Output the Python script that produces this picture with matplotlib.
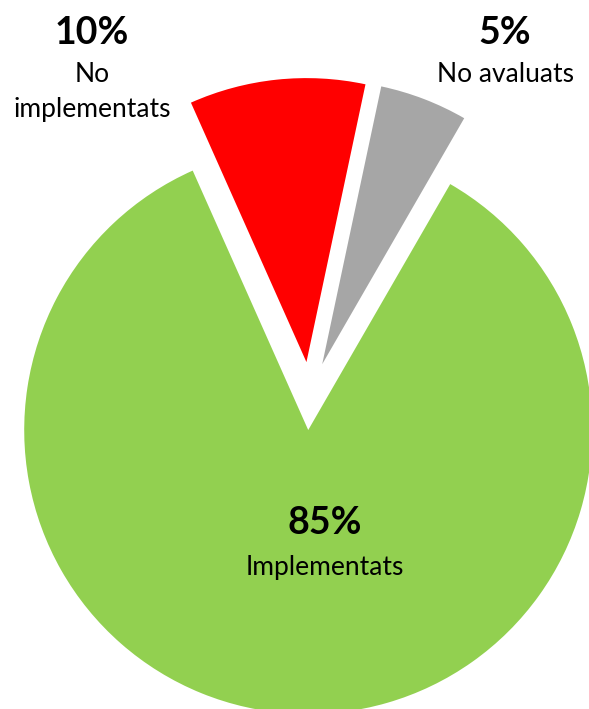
import matplotlib
matplotlib.use("Agg")
import matplotlib.pyplot as plt

categories = ["Implementats", "No\nimplementats", "No avaluats"]
values = [85, 10, 5]
pct_labels = ["85%", "10%", "5%"]
colors = ["#92D050", "#FF0000", "#A6A6A6"]
explode = [0.12, 0.12, 0.12]

W, H = 589, 709
fig = plt.figure(figsize=(W / 100, H / 100), dpi=100)
ax = fig.add_axes([0, 0, 1, 1])

# pixel geometry of the (unexploded) pie centre and radius
cx, cy, R = 310.0, 396.0, 284.0

ax.pie(values, colors=colors, explode=explode, startangle=60,
       counterclock=False, radius=1.0, center=(0, 0),
       wedgeprops=dict(linewidth=0))
ax.set_xlim(-cx / R, (W - cx) / R)
ax.set_ylim(-(H - cy) / R, cy / R)
ax.set_aspect("equal")
ax.axis("off")

def px(x, y):
    return (x - cx) / R, (cy - y) / R

font = "Lato"
# label positions (pixels): percent line, name line
pos = [((325, 523), (325, 567)),
       ((92, 33), (92, 92)),
       ((505, 33), (505, 75))]
for lab, pct, (p1, p2) in zip(categories, pct_labels, pos):
    ax.text(*px(*p1), pct, ha="center", va="center", fontsize=27,
            fontweight="bold", family=font, color="black")
    ax.text(*px(*p2), lab, ha="center", va="center", fontsize=19,
            family=font, color="black", linespacing=1.45)

fig.savefig("out.png", dpi=100)
